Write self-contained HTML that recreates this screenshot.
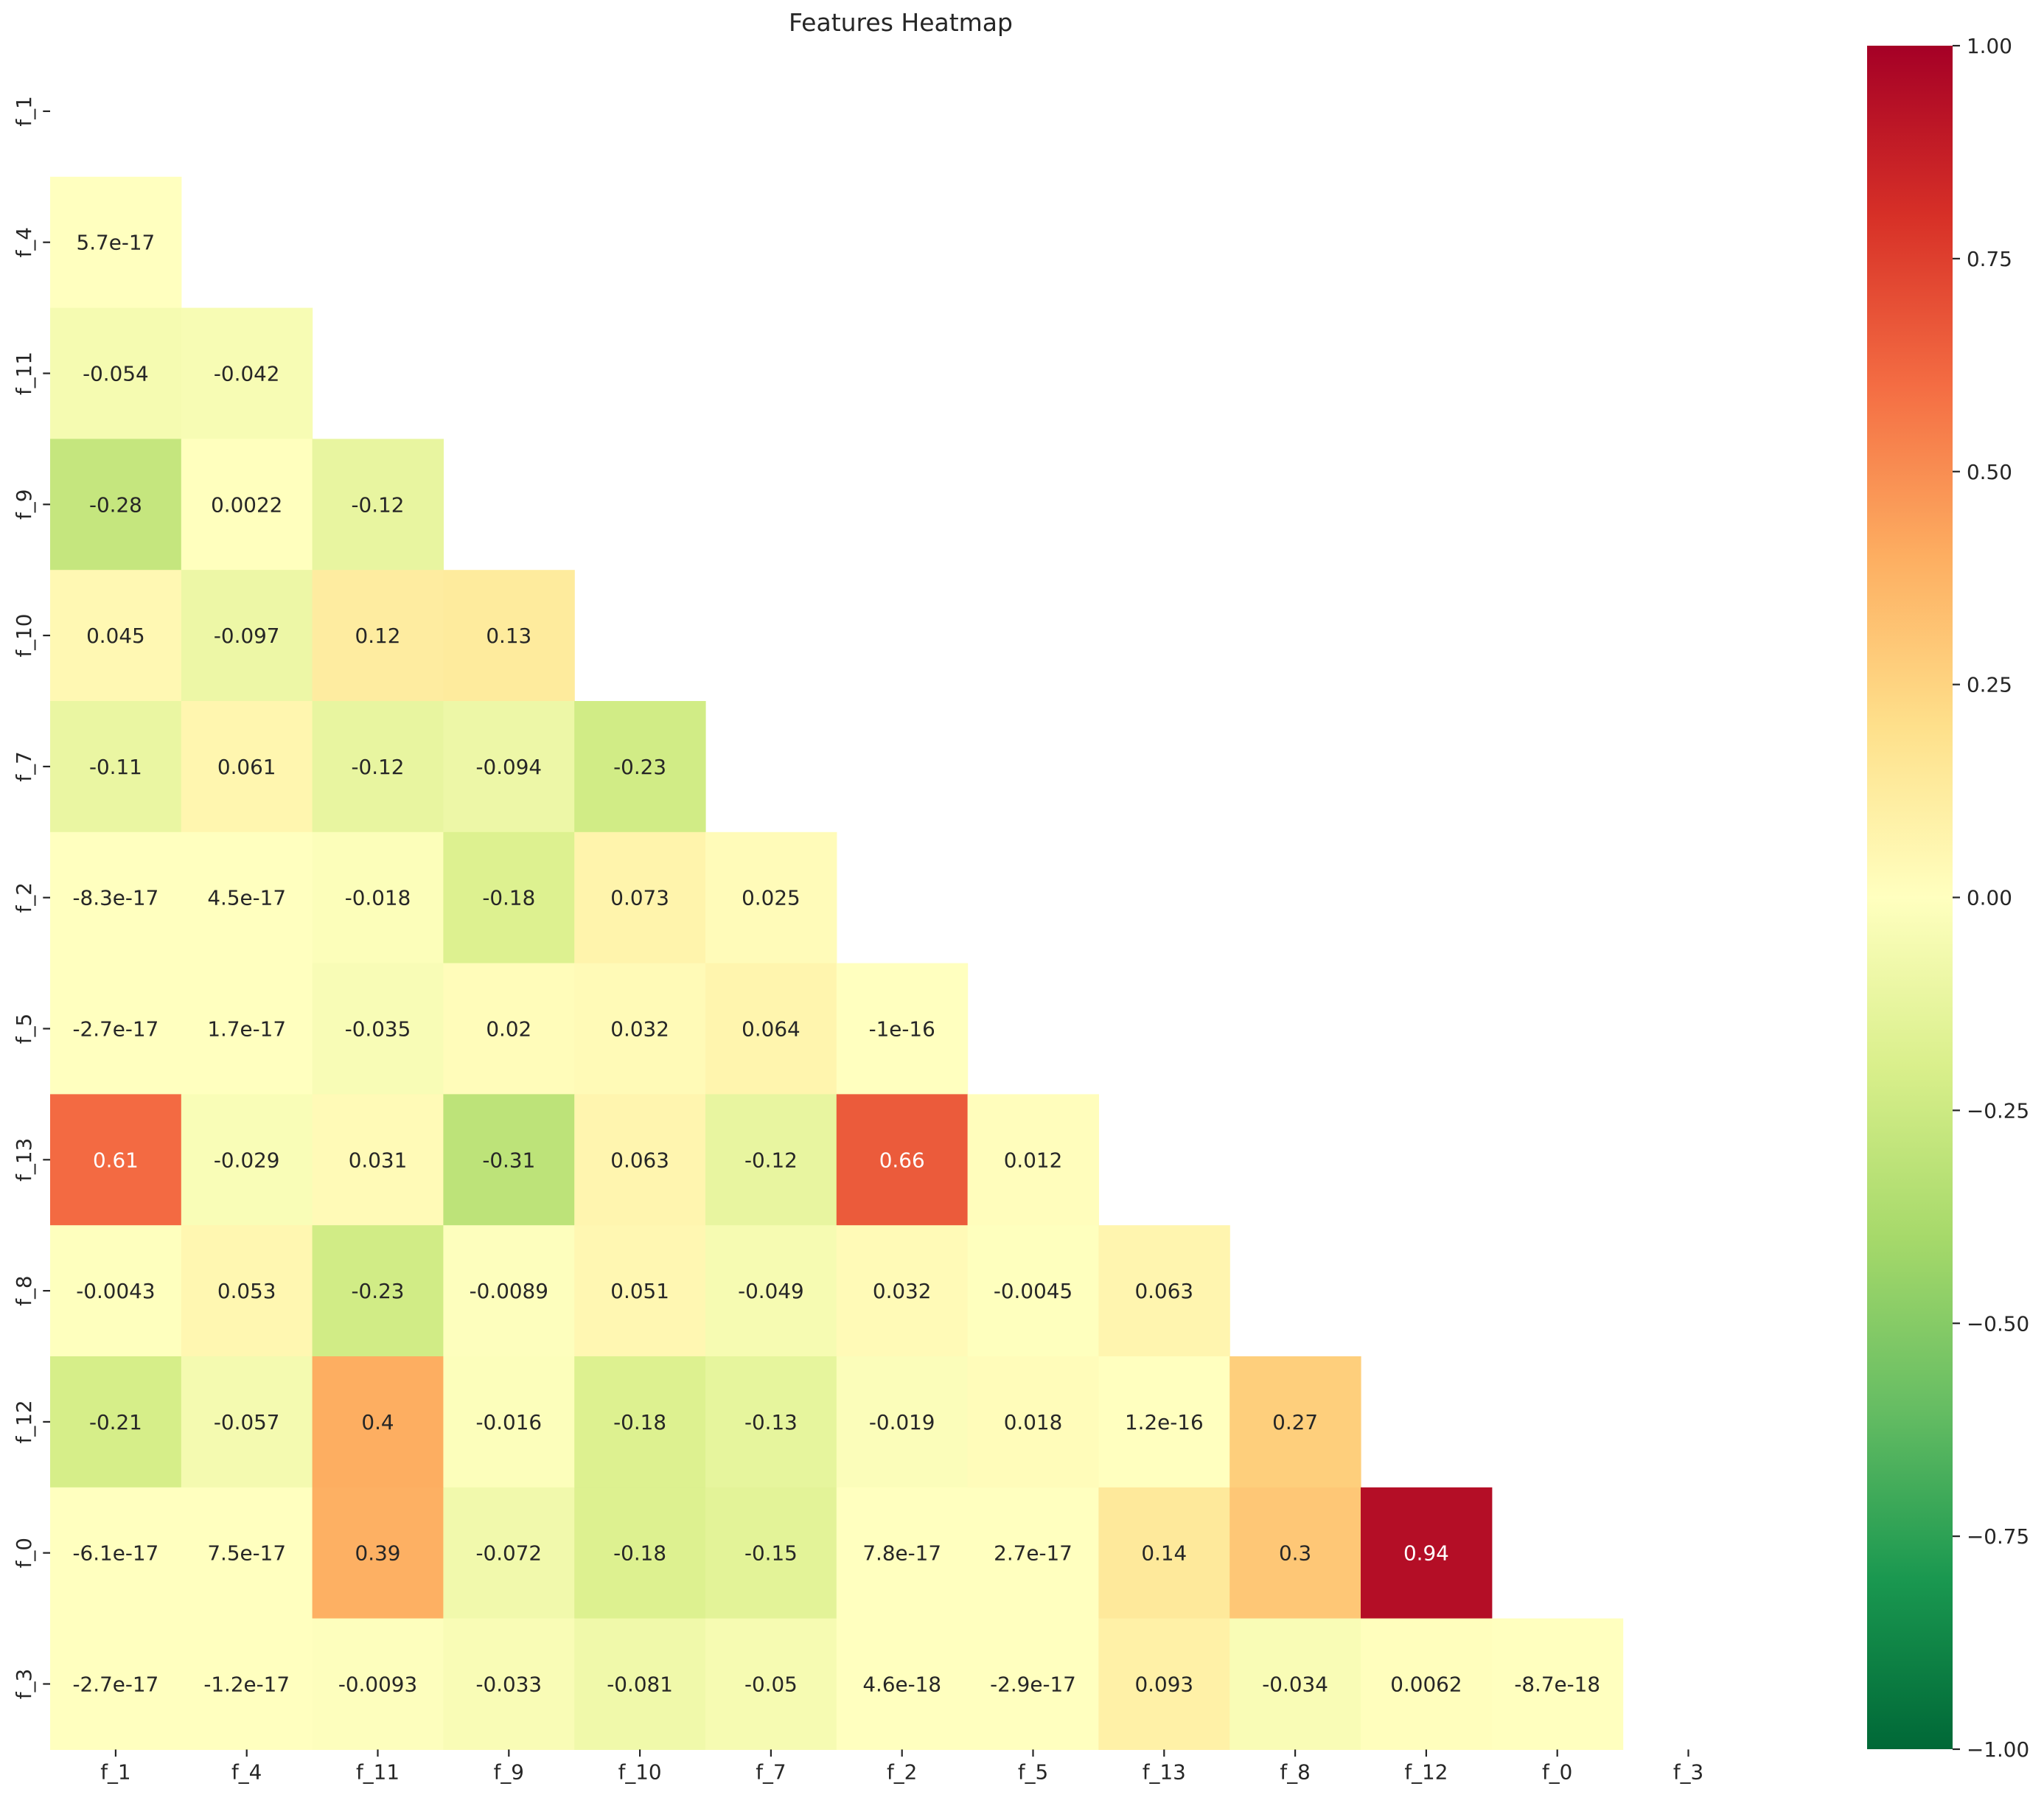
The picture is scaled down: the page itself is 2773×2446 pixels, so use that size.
<!DOCTYPE html>
<html><head><meta charset="utf-8"><style>
html,body{margin:0;padding:0;background:#fff;}
svg text{font-family:"DejaVu Sans","Liberation Sans",sans-serif;fill:#262626;}
</style></head><body>
<svg id="chart" width="2773" height="2441" xmlns="http://www.w3.org/2000/svg">
<defs>
<linearGradient id="cbgrad" x1="0" y1="1" x2="0" y2="0">
<stop offset="0" stop-color="#006837"/><stop offset="0.1" stop-color="#1a9850"/><stop offset="0.2" stop-color="#66bd63"/><stop offset="0.3" stop-color="#a6d96a"/><stop offset="0.4" stop-color="#d9ef8b"/><stop offset="0.5" stop-color="#ffffbf"/><stop offset="0.6" stop-color="#fee08b"/><stop offset="0.7" stop-color="#fdae61"/><stop offset="0.8" stop-color="#f46d43"/><stop offset="0.9" stop-color="#d73027"/><stop offset="1" stop-color="#a50026"/>
</linearGradient>
</defs>
<text x="1222" y="42" font-size="33" text-anchor="middle">Features Heatmap</text>
<g id="cells"></g>
<g id="xticks"></g>
<g id="yticks"></g>
<rect x="2533" y="62" width="116" height="2311" fill="url(#cbgrad)"/>
<g id="cbticks"></g>
</svg>
<script>
const labels = ["f_1","f_4","f_11","f_9","f_10","f_7","f_2","f_5","f_13","f_8","f_12","f_0","f_3"];
const row1 = ["5.7e-17"];
const row2 = ["-0.054","-0.042"];
const row3 = ["-0.28","0.0022","-0.12"];
const row4 = ["0.045","-0.097","0.12","0.13"];
const row5 = ["-0.11","0.061","-0.12","-0.094","-0.23"];
const row6 = ["-8.3e-17","4.5e-17","-0.018","-0.18","0.073","0.025"];
const row7 = ["-2.7e-17","1.7e-17","-0.035","0.02","0.032","0.064","-1e-16"];
const row8 = ["0.61","-0.029","0.031","-0.31","0.063","-0.12","0.66","0.012"];
const row9 = ["-0.0043","0.053","-0.23","-0.0089","0.051","-0.049","0.032","-0.0045","0.063"];
const row10 = ["-0.21","-0.057","0.4","-0.016","-0.18","-0.13","-0.019","0.018","1.2e-16","0.27"];
const row11 = ["-6.1e-17","7.5e-17","0.39","-0.072","-0.18","-0.15","7.8e-17","2.7e-17","0.14","0.3","0.94"];
const row12 = ["-2.7e-17","-1.2e-17","-0.0093","-0.033","-0.081","-0.05","4.6e-18","-2.9e-17","0.093","-0.034","0.0062","-8.7e-18"];
const rows = [[],row1,row2,row3,row4,row5,row6,row7,row8,row9,row10,row11,row12];
const cbTicks = ["1.00","0.75","0.50","0.25","0.00","\u22120.25","\u22120.50","\u22120.75","\u22121.00"];
const cbValues = [1,0.75,0.5,0.25,0,-0.25,-0.5,-0.75,-1];

const NS="http://www.w3.org/2000/svg";
const X0=68, Y0=62, CW=177.8, CH=177.8;
const xPos = j => X0 + j*CW;
const yPos = i => Y0 + i*CH;
const cbTop=62, cbBot=2373;
const cbY = v => cbBot - (v+1)/2*(cbBot-cbTop);
const stops=["#006837","#1a9850","#66bd63","#a6d96a","#d9ef8b","#ffffbf","#fee08b","#fdae61","#f46d43","#d73027","#a50026"].map(h=>[parseInt(h.slice(1,3),16),parseInt(h.slice(3,5),16),parseInt(h.slice(5,7),16)]);
function cmap(v){let t=(Math.max(-1,Math.min(1,v))+1)/2*10;let k=Math.min(9,Math.floor(t));let f=t-k;
 return stops[k].map((c,i)=>Math.round(c+(stops[k+1][i]-c)*f));}
function mk(tag,attrs,parent){const e=document.createElementNS(NS,tag);for(const k in attrs)e.setAttribute(k,attrs[k]);parent.appendChild(e);return e;}
const cells=document.getElementById('cells');
rows.forEach((r,i)=>{r.forEach((s,j)=>{
 const v=parseFloat(s);const c=cmap(v);
 const rect=mk('rect',{x:xPos(j),y:yPos(i),width:CW+0.6,height:CH+0.6,fill:`rgb(${c[0]},${c[1]},${c[2]})`},cells);
 
 
 const lum=0.2126*Math.pow(c[0]/255,2.2)+0.7152*Math.pow(c[1]/255,2.2)+0.0722*Math.pow(c[2]/255,2.2);
 const t=mk('text',{x:xPos(j)+CW/2,y:yPos(i)+CH/2+10,'font-size':27.8,'text-anchor':'middle'},cells);
 
 
 t.style.fill = lum>0.408 ? '#262626' : '#ffffff';
 t.textContent=s;
});});
const xt=document.getElementById('xticks'), yt=document.getElementById('yticks');
labels.forEach((l,k)=>{
 const cx=xPos(k)+CW/2, cy=yPos(k)+CH/2, bot=yPos(13);
 mk('line',{x1:cx,y1:bot,x2:cx,y2:bot+9.7,stroke:'#262626','stroke-width':2.2},xt);
 const t=mk('text',{x:cx,y:bot+40,'font-size':27.8,'text-anchor':'middle'},xt);
 
 
 t.textContent=l;
 mk('line',{x1:X0-9.7,y1:cy,x2:X0,y2:cy,stroke:'#262626','stroke-width':2.2},yt);
 const u=mk('text',{x:0,y:0,'font-size':27.8,'text-anchor':'middle',transform:`translate(42,${cy}) rotate(-90)`},yt);
 
 
 u.textContent=l;
});
const cb=document.getElementById('cbticks');
cbTicks.forEach((s,k)=>{
 const y=cbY(cbValues[k]);
 mk('line',{x1:2649,y1:y,x2:2659,y2:y,stroke:'#262626','stroke-width':2.2},cb);
 const t=mk('text',{x:2668,y:y+10,'font-size':27.8},cb);
 
 
 t.textContent=s;
});
</script>
</body></html>
